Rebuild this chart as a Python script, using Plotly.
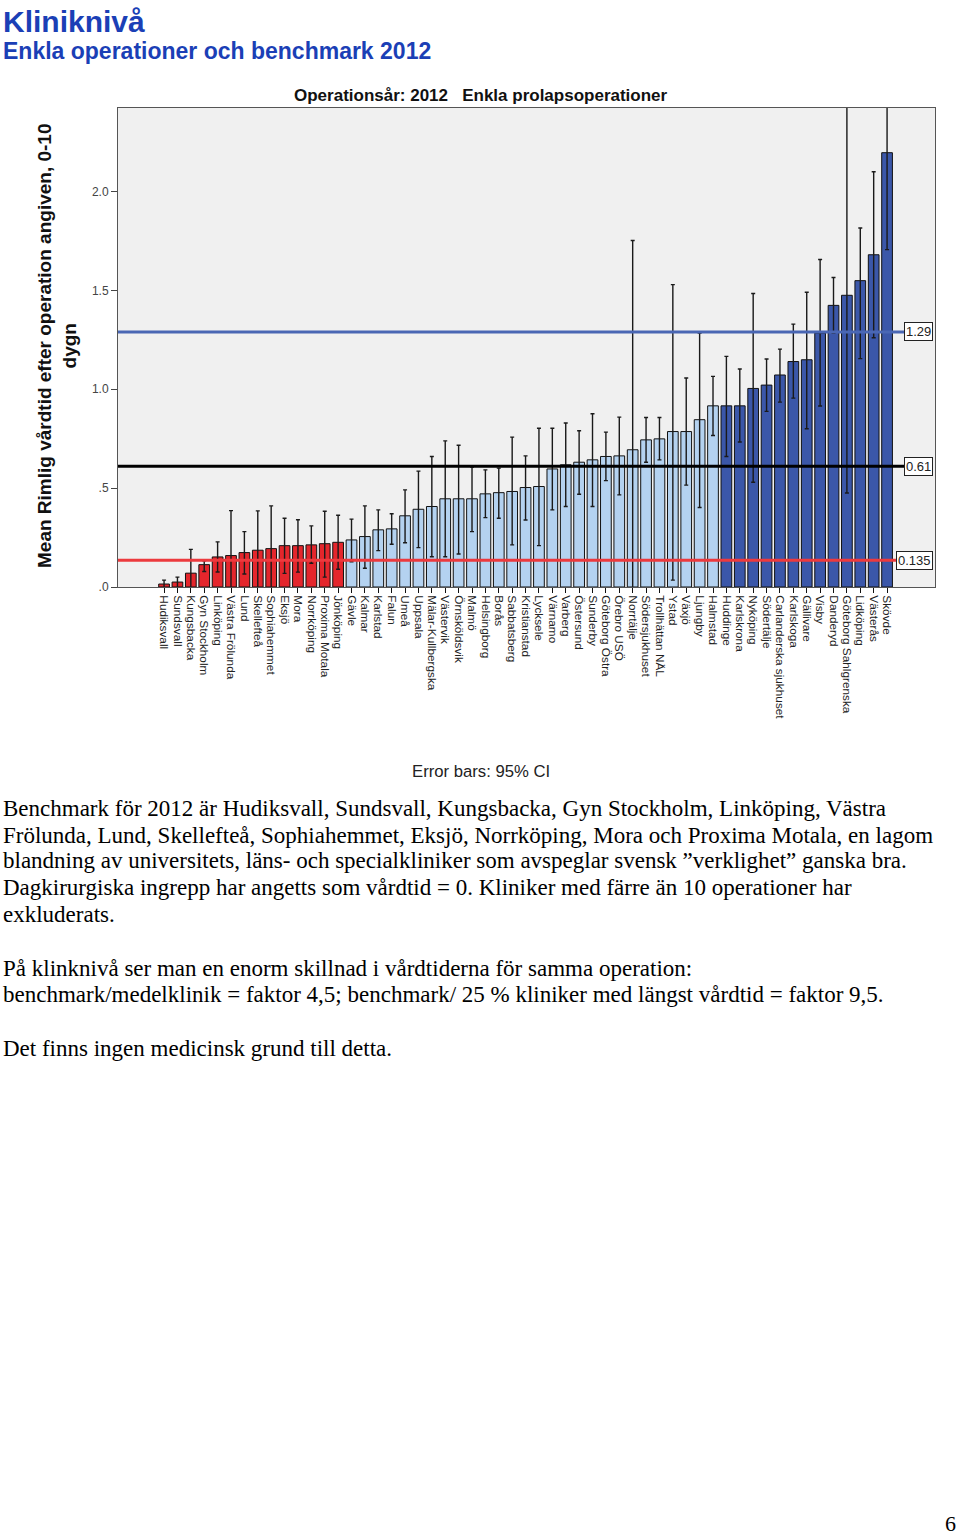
import plotly.graph_objects as go

# ---------------- data ----------------
clinics = [
    "Hudiksvall", "Sundsvall", "Kungsbacka", "Gyn Stockholm", "Linköping",
    "Västra Frölunda", "Lund", "Skellefteå", "Sophiahemmet", "Eksjö", "Mora",
    "Norrköping", "Proxima Motala", "Jönköping",
    "Gävle", "Kalmar", "Karlstad", "Falun", "Umeå", "Uppsala",
    "Mälar-Kullbergska", "Västervik", "Örnsköldsvik", "Malmö", "Helsingborg",
    "Borås", "Sabbatsberg", "Kristianstad", "Lycksele", "Värnamo", "Varberg",
    "Östersund", "Sunderby", "Göteborg Östra", "Örebro USÖ", "Norrtälje",
    "Södersjukhuset", "Trollhättan NÄL", "Ystad", "Växjö", "Ljungby", "Halmstad",
    "Huddinge", "Karlskrona", "Nyköping", "Södertälje", "Carlanderska sjukhuset",
    "Karlskoga", "Gällivare", "Visby", "Danderyd", "Göteborg Sahlgrenska",
    "Lidköping", "Västerås", "Skövde",
]
means = [
    0.015, 0.025, 0.07, 0.113, 0.152, 0.159, 0.174, 0.186, 0.194, 0.209, 0.209,
    0.213, 0.219, 0.226,
    0.238, 0.255, 0.289, 0.294, 0.36, 0.393, 0.407, 0.446, 0.446, 0.446, 0.471,
    0.477, 0.483, 0.503, 0.508, 0.597, 0.618, 0.631, 0.643, 0.66, 0.663, 0.694,
    0.744, 0.749, 0.786, 0.786, 0.846, 0.916,
    0.916, 0.916, 1.004, 1.021, 1.072, 1.14, 1.149, 1.284, 1.424, 1.475,
    1.549, 1.68, 2.196,
]
ci_low = [
    -0.005, -0.005, -0.05, 0.078, 0.076, -0.068, 0.066, -0.013, -0.02, 0.069, 0.075,
    0.12, 0.05, 0.09,
    0.128, 0.095, 0.184, 0.216, 0.224, 0.199, 0.153, 0.153, 0.167, 0.28, 0.351,
    0.348, 0.213, 0.339, 0.209, 0.39, 0.407, 0.469, 0.407, 0.538, 0.466, -0.36,
    0.631, 0.643, 0.035, 0.515, 0.402, 0.766,
    0.66, 0.733, 0.53, 0.888, 0.935, 0.955, 0.80, 0.915, 1.284, 0.475,
    1.155, 1.26, 1.706,
]
ci_high = [
    0.035, 0.05, 0.19, 0.132, 0.228, 0.386, 0.28, 0.385, 0.41, 0.348, 0.34,
    0.309, 0.383, 0.363,
    0.343, 0.41, 0.39, 0.37, 0.491, 0.586, 0.66, 0.739, 0.717, 0.606, 0.592,
    0.601, 0.758, 0.663, 0.803, 0.803, 0.829, 0.79, 0.876, 0.783, 0.859, 1.752,
    0.857, 0.857, 1.529, 1.057, 1.284, 1.065,
    1.166, 1.102, 1.484, 1.153, 1.203, 1.329, 1.49, 1.656, 1.565, 2.475,
    1.815, 2.1, 2.686,
]
group_sizes = {"benchmark": 14, "middle": 28, "longest": 13}

ref_values = [0.135, 0.61, 1.29]
ref_labels = ["0.135", "0.61", "1.29"]

ytick_vals = [0, 0.5, 1.0, 1.5, 2.0]
ytick_text = [".0", ".5", "1.0", "1.5", "2.0"]

# ---------------- styling ----------------
W, H = 960, 1535
group_colors = {"benchmark": "#E4262C", "middle": "#B4D2F0", "longest": "#3B57A9"}
ref_colors = ["#EC3A3E", "#000000", "#4A67B4"]

bar_colors = []
for g, n in group_sizes.items():
    bar_colors += [group_colors[g]] * n

err_plus = [h - m for h, m in zip(ci_high, means)]
err_minus = [m - l for m, l in zip(means, ci_low)]

def px_x(p):
    return p / W

def px_y(p):
    return 1 - p / H

fig = go.Figure()
fig.add_trace(go.Bar(
    x=clinics, y=means,
    marker=dict(color=bar_colors, line=dict(color="#111111", width=1)),
    error_y=dict(type="data", symmetric=False, array=err_plus, arrayminus=err_minus,
                 color="#1a1a1a", thickness=1.4, width=2),
    width=0.8,
    hoverinfo="x+y",
))

x0d, x1d = px_x(118), px_x(935)
y0d, y1d = px_y(587), px_y(108)

shapes = []
annotations = []
label_left = {"0.135": 897, "0.61": 905, "1.29": 905}
for v, lab, col in zip(ref_values, ref_labels, ref_colors):
    shapes.append(dict(type="line", xref="paper", yref="y", x0=x0d, x1=px_x(label_left[lab]),
                       y0=v, y1=v, line=dict(color=col, width=3), layer="above"))
    annotations.append(dict(xref="paper", yref="y", x=px_x(933), y=v, xanchor="right",
                            yanchor="middle", text=lab, showarrow=False,
                            font=dict(family="Arial, Liberation Sans", size=13, color="#222"),
                            bgcolor="white", bordercolor="#222", borderwidth=1, borderpad=1))

sans = "Arial, Liberation Sans, sans-serif"
serif = "Times New Roman, Liberation Serif, serif"
blue_head = "#1B3FB6"

annotations += [
    dict(xref="paper", yref="paper", x=px_x(1), y=px_y(3), xanchor="left", yanchor="top",
         text="<b>Kliniknivå</b>", showarrow=False,
         font=dict(family=sans, size=30, color=blue_head)),
    dict(xref="paper", yref="paper", x=px_x(1), y=px_y(36), xanchor="left", yanchor="top",
         text="<b>Enkla operationer och benchmark 2012</b>", showarrow=False,
         font=dict(family=sans, size=23, color=blue_head)),
    dict(xref="paper", yref="paper", x=px_x(481), y=px_y(96), xanchor="center", yanchor="middle",
         text="<b>Operationsår: 2012   Enkla prolapsoperationer</b>", showarrow=False,
         font=dict(family=sans, size=17, color="#111")),
    dict(xref="paper", yref="paper", x=px_x(57), y=px_y(346), xanchor="center", yanchor="middle",
         text="<b>Mean Rimlig vårdtid efter operation angiven, 0-10<br>dygn</b>", showarrow=False,
         textangle=-90, font=dict(family=sans, size=19, color="#111")),
    dict(xref="paper", yref="paper", x=px_x(481), y=px_y(771), xanchor="center", yanchor="middle",
         text="Error bars: 95% CI", showarrow=False,
         font=dict(family=sans, size=16.7, color="#222")),
]

body_lines = [
    (808, "Benchmark för 2012 är Hudiksvall, Sundsvall, Kungsbacka, Gyn Stockholm, Linköping, Västra"),
    (835, "Frölunda, Lund, Skellefteå, Sophiahemmet, Eksjö, Norrköping, Mora och Proxima Motala, en lagom"),
    (861, "blandning av universitets, läns- och specialkliniker som avspeglar svensk ”verklighet” ganska bra."),
    (888, "Dagkirurgiska ingrepp har angetts som vårdtid = 0. Kliniker med färre än 10 operationer har"),
    (914, "exkluderats."),
    (968, "På klinknivå ser man en enorm skillnad i vårdtiderna för samma operation:"),
    (995, "benchmark/medelklinik = faktor 4,5; benchmark/ 25 % kliniker med längst vårdtid = faktor 9,5."),
    (1048, "Det finns ingen medicinsk grund till detta."),
]
for yy, t in body_lines:
    annotations.append(dict(xref="paper", yref="paper", x=px_x(1), y=px_y(yy), xanchor="left",
                            yanchor="middle", text=t, showarrow=False,
                            font=dict(family=serif, size=23, color="#000")))
annotations.append(dict(xref="paper", yref="paper", x=px_x(958), y=px_y(1523), xanchor="right",
                        yanchor="middle", text="6", showarrow=False,
                        font=dict(family=serif, size=22, color="#000")))

fig.update_layout(
    width=W, height=H, autosize=False,
    margin=dict(l=0, r=0, t=0, b=0),
    paper_bgcolor="white", plot_bgcolor="#F0F0F0",
    showlegend=False,
    shapes=shapes, annotations=annotations,
    xaxis=dict(domain=[x0d, x1d], type="category", range=[-3.44, 57.58],
               tickmode="array", tickvals=clinics, ticktext=clinics, tickangle=90,
               tickfont=dict(family=sans, size=11.8, color="#222"),
               ticks="outside", ticklen=5, tickcolor="#111", showline=True,
               linecolor="#555", linewidth=1, mirror=True, showgrid=False,
               automargin=False, fixedrange=True),
    yaxis=dict(domain=[y0d, y1d], range=[0, 2.422], tickmode="array",
               tickvals=ytick_vals, ticktext=ytick_text,
               tickfont=dict(family=sans, size=12, color="#444"),
               ticks="outside", ticklen=6, tickcolor="#444", showline=True,
               linecolor="#555", linewidth=1, mirror=True, showgrid=False,
               zeroline=False, automargin=False, fixedrange=True),
)

fig.write_html("out.html", config={"displayModeBar": False},
               post_script="document.body.style.margin='0';document.body.style.overflow='hidden';")
